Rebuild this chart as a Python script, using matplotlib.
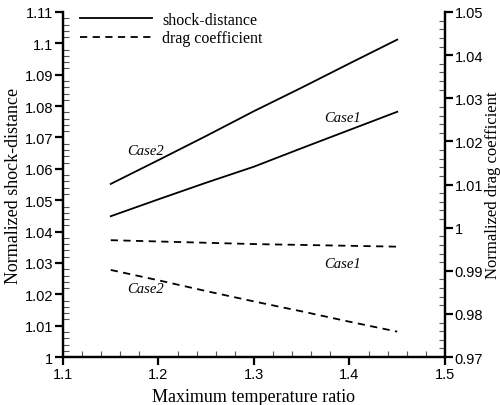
import numpy as np
import matplotlib
matplotlib.use("Agg")
import matplotlib.pyplot as plt
from matplotlib.ticker import MultipleLocator, FuncFormatter

# data
temp_ratio = [1.15, 1.2, 1.25, 1.3, 1.35, 1.4, 1.45]
shock_case1 = [1.0449, 1.0503, 1.0556, 1.0607, 1.0666, 1.0724, 1.0782]
shock_case2 = [1.0552, 1.0628, 1.0705, 1.0784, 1.0859, 1.0936, 1.1012]
drag_case1 = [0.9971, 0.9968, 0.9965, 0.9962, 0.9960, 0.9958, 0.9956]
drag_case2 = [0.9902, 0.9878, 0.9853, 0.9829, 0.9806, 0.9782, 0.9759]

serif = "Liberation Serif"
sans = "Liberation Sans"

def fmt(v, pos):
    return ("%.2f" % v).rstrip("0").rstrip(".")

fig = plt.figure(figsize=(5.0, 4.06), dpi=100)
ax = fig.add_axes([0.126, 0.118, 0.764, 0.850])
ax2 = ax.twinx()

l1, = ax.plot(temp_ratio, shock_case2, color="black", lw=1.3)
ax.plot(temp_ratio, shock_case1, color="black", lw=1.3)
l2, = ax2.plot(temp_ratio, drag_case1, color="black", lw=1.3, linestyle=(0, (4, 3)))
ax2.plot(temp_ratio, drag_case2, color="black", lw=1.3, linestyle=(0, (4, 3)))

ax.set_xlim(1.1, 1.5)
ax.set_ylim(1.0, 1.11)
ax2.set_ylim(0.97, 1.05)

ax.xaxis.set_major_locator(MultipleLocator(0.1))
ax.xaxis.set_minor_locator(MultipleLocator(0.02))
ax.yaxis.set_major_locator(MultipleLocator(0.01))
ax.yaxis.set_minor_locator(MultipleLocator(0.002))
ax2.yaxis.set_major_locator(MultipleLocator(0.01))
ax2.yaxis.set_minor_locator(MultipleLocator(0.002))
ax.xaxis.set_major_formatter(FuncFormatter(fmt))
ax.yaxis.set_major_formatter(FuncFormatter(fmt))
ax2.yaxis.set_major_formatter(FuncFormatter(fmt))

for a in (ax, ax2):
    a.spines["top"].set_visible(False)
    for sp in a.spines.values():
        sp.set_linewidth(1.6)
    a.tick_params(which="major", direction="out", length=6, width=1.6,
                  labelsize=10.5, pad=1)
    a.tick_params(which="minor", direction="in", length=4, width=0.8, color="#555555")
    for lab in a.get_xticklabels() + a.get_yticklabels():
        lab.set_fontfamily(sans)
ax.tick_params(axis="y", right=False)
ax2.tick_params(axis="y", left=False)

ax.set_xlabel("Maximum temperature ratio", fontfamily=serif, fontsize=13, labelpad=5)
ax.set_ylabel("Normalized shock-distance", fontfamily=serif, fontsize=13, labelpad=2)
ax2.set_ylabel("Normalized drag coefficient", fontfamily=serif, fontsize=12, labelpad=1)

ax.text(1.186, 1.0657, "Case2", fontfamily=serif, style="italic", fontsize=10.5,
        ha="center", va="center")
ax.text(1.393, 1.0765, "Case1", fontfamily=serif, style="italic", fontsize=10.5,
        ha="center", va="center")
ax2.text(1.393, 0.9918, "Case1", fontfamily=serif, style="italic", fontsize=10.5,
         ha="center", va="center")
ax2.text(1.186, 0.9858, "Case2", fontfamily=serif, style="italic", fontsize=10.5,
         ha="center", va="center")

leg = ax.legend([l1, l2], ["shock-distance", "drag coefficient"], loc="upper left",
                bbox_to_anchor=(0.045, 1.0), frameon=False, handlelength=4.5,
                handletextpad=0.65, labelspacing=0.15, borderpad=0, borderaxespad=0,
                prop={"family": serif, "size": 11.5})

fig.savefig("out.png", dpi=100)
